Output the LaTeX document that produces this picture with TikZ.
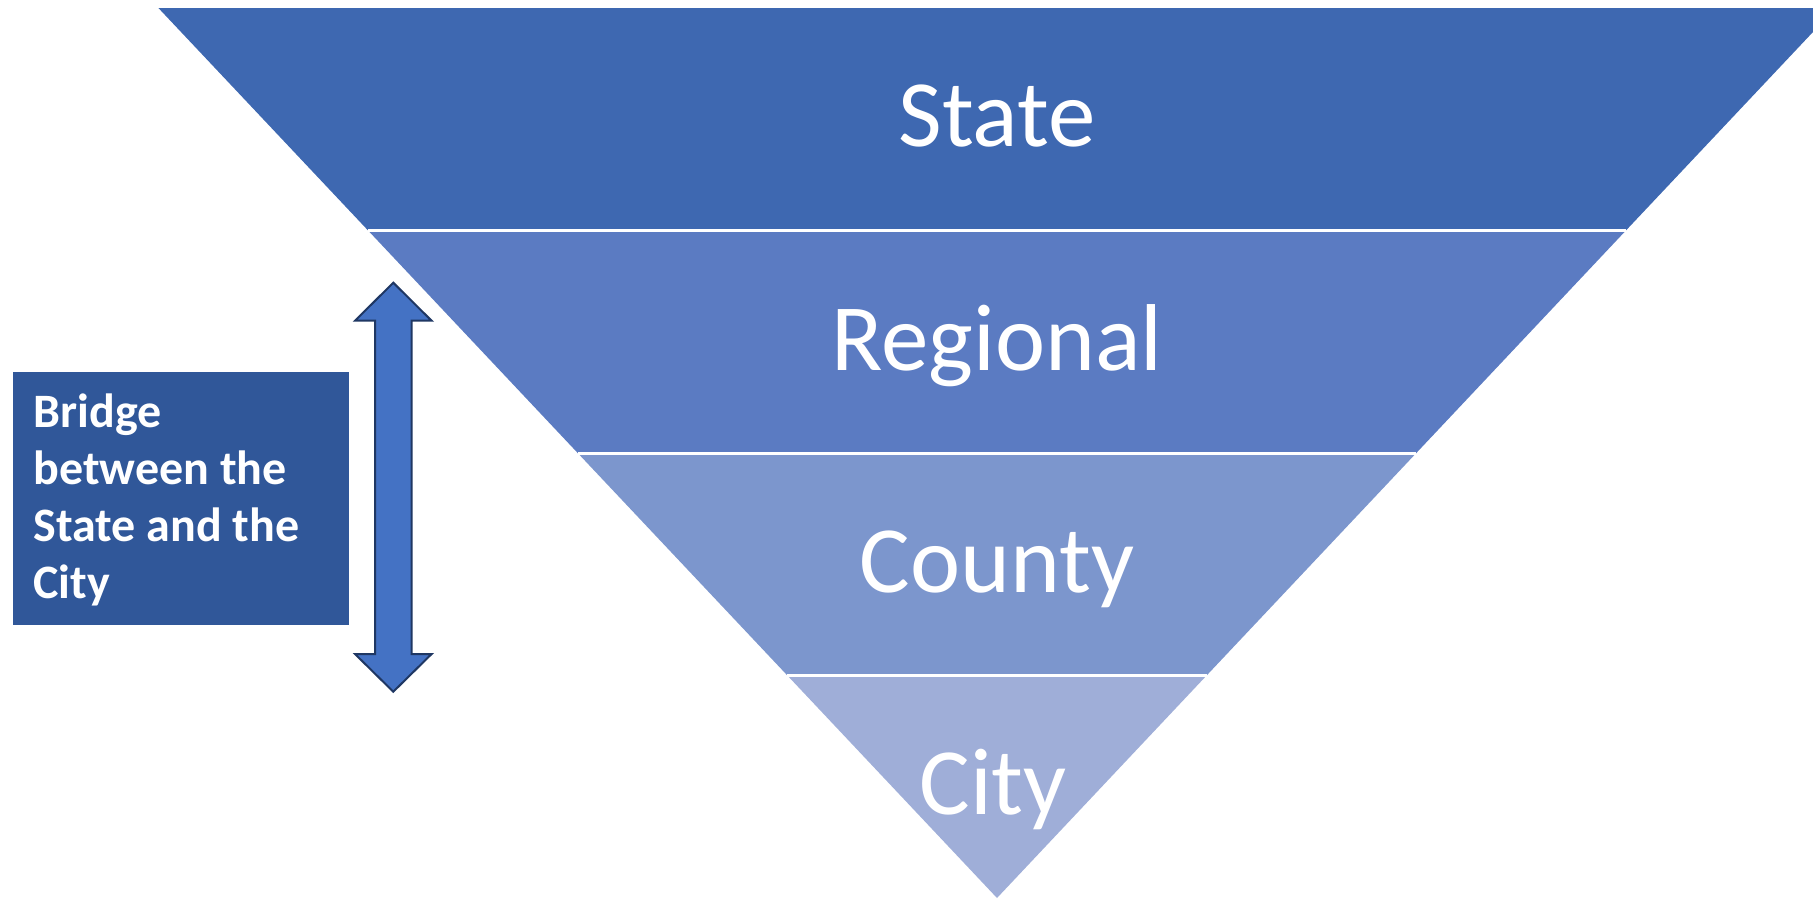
\documentclass[tikz,border=0pt]{standalone}
\usepackage{fontspec}
\setmainfont{Carlito}
\begin{document}
\begin{tikzpicture}[x=1pt,y=-1pt,
  bandlabel/.style={text=white,font=\fontsize{95}{110}\selectfont,inner sep=0pt,anchor=base},
  bridgebox/.style={fill=boxblue,inner sep=0pt,anchor=north west},
  bridgetext/.style={text=white,font=\fontsize{48}{57}\bfseries\selectfont,align=left,inner sep=0pt,anchor=base west},
  gapline/.style={draw=white,line width=3pt}]
\definecolor{statecol}{HTML}{3E68B1}
\definecolor{regioncol}{HTML}{5B7BC2}
\definecolor{countycol}{HTML}{7C96CD}
\definecolor{citycol}{HTML}{9FAED8}
\definecolor{boxblue}{HTML}{305799}
\definecolor{arrowfill}{HTML}{4472C4}
\definecolor{arrowline}{HTML}{1F3763}
\useasboundingbox (0,0) rectangle (1813,898);
\clip (0,0) rectangle (1813,898);

% the four levels of the funnel
\coordinate (t0l) at (158.4,8);     \coordinate (t0r) at (1835.6,8);
\coordinate (t1l) at (368.1,230.5); \coordinate (t1r) at (1625.9,230.5);
\coordinate (t2l) at (577.7,453);   \coordinate (t2r) at (1416.3,453);
\coordinate (t3l) at (787.4,675.5); \coordinate (t3r) at (1206.6,675.5);
\coordinate (apex) at (997,898);

\fill[statecol]  (t0l) -- (t0r) -- (t1r) -- (t1l) -- cycle;
\fill[regioncol] (t1l) -- (t1r) -- (t2r) -- (t2l) -- cycle;
\fill[countycol] (t2l) -- (t2r) -- (t3r) -- (t3l) -- cycle;
\fill[citycol]   (t3l) -- (t3r) -- (apex) -- cycle;

\draw[gapline] (t1l) -- (t1r);
\draw[gapline] (t2l) -- (t2r);
\draw[gapline] (t3l) -- (t3r);

\node[bandlabel] (state)    at (997,146)   {State};
\node[bandlabel] (regional) at (997,370)   {Regional};
\node[bandlabel] (county)   at (997,592)   {County};
\node[bandlabel] (city)     at (993,814)   {City};

% side note and its two-headed arrow
\node[bridgebox,minimum width=336,minimum height=252.5] (bridge) at (12.7,372) {};
\node[bridgetext] (bridgelabel) at (33.3,598) {Bridge\\between the\\State and the\\City};

\draw[fill=arrowfill,draw=arrowline,line width=2pt,line join=miter]
  (393.3,282.7) -- (431.6,320.7) -- (411.7,320.7) -- (411.7,654) -- (431.6,654)
  -- (393.3,691.7) -- (355,654) -- (375,654) -- (375,320.7) -- (355,320.7) -- cycle;
\end{tikzpicture}
\end{document}
